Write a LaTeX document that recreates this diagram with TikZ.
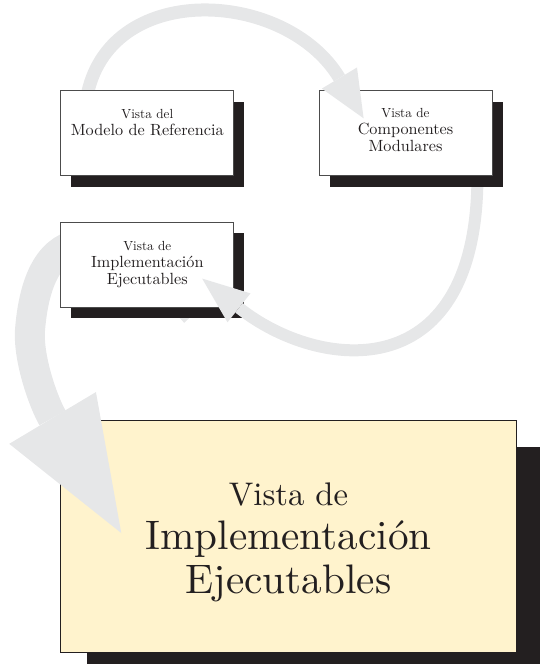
\documentclass[tikz,border=0pt]{standalone}
\usepackage{fontspec}
\setmainfont{lmroman10-regular.otf}
\usepackage{tikz}
\usetikzlibrary{arrows.meta,shadows}
\definecolor{flowgray}{HTML}{E6E7E8}
\definecolor{shadowblk}{HTML}{231F20}
\definecolor{paleyellow}{HTML}{FFF3CD}
\tikzstyle{viewbase}=[rectangle, inner sep=0pt, align=center, text=shadowblk]
\tikzstyle{view}=[viewbase, draw=black!70, line width=0.8pt, fill=white, minimum width=173pt, minimum height=85pt, font=\fontsize{16.2}{16.7}\selectfont, general shadow={fill=shadowblk, shadow xshift=10.5pt, shadow yshift=-11pt}]
\tikzstyle{bigview}=[viewbase, draw=shadowblk, line width=1.3pt, fill=paleyellow, minimum width=456pt, minimum height=231.5pt, font=\fontsize{41.2}{44}\selectfont, general shadow={fill=shadowblk, shadow xshift=26pt, shadow yshift=-26pt}]
\tikzstyle{flow}=[draw=flowgray, line cap=butt]
\newcommand{\viewhead}[1]{{\fontsize{13.2}{16.7}\selectfont #1}}
\pgfdeclarelayer{lay1}
\pgfdeclarelayer{lay2}
\pgfdeclarelayer{lay3}
\pgfdeclarelayer{lay4}
\pgfdeclarelayer{lay5}
\pgfdeclarelayer{lay6}
\pgfsetlayers{lay1,lay2,lay3,lay4,lay5,lay6,main}

\begin{document}
\begin{tikzpicture}[x=1pt, y=-1pt]
	\useasboundingbox (0,0) rectangle (540,664);
	% the four views
	\begin{pgfonlayer}{lay1}
		\node[bigview, text height=122pt] (ejec) at (288.5,536.5) {{\fontsize{32.7}{44}\selectfont Vista de}\\ Implementación\\ Ejecutables};
	\end{pgfonlayer}
	\begin{pgfonlayer}{lay3}
		\node[view] (impl) at (147.3,264.7) {\viewhead{Vista de}\\ Implementación\\ Ejecutables};
	\end{pgfonlayer}
	\begin{pgfonlayer}{lay5}
		\node[view, text depth=6.6pt] (comp) at (405.5,133.2) {\viewhead{Vista de}\\ Componentes\\ Modulares};
	\end{pgfonlayer}
	\node[view, text depth=21.6pt] (modelo) at (147.3,133.2) {\viewhead{Vista del}\\ Modelo de Referencia};

	% the flow between them
	\begin{pgfonlayer}{lay6}
		\draw[flow, line width=13pt, -{Triangle[length=47pt,width=41pt,line width=0pt]}]
			([shift={(26,9)}]modelo.north west) .. controls +(20,-120) and +(-78,-130) .. ([shift={(45,28)}]comp.north west);
	\end{pgfonlayer}
	\begin{pgfonlayer}{lay4}
		\draw[flow, line width=12pt, -{Triangle[length=47pt,width=37pt,line width=0pt]}]
			([shift={(-15,-6)}]comp.south east) .. controls +(3,220) and +(117,93) .. ([shift={(-32,-29)}]impl.south east);
	\end{pgfonlayer}
	\begin{pgfonlayer}{lay2}
		\draw[flow, line width=30pt, -{Triangle[length=134pt,width=101pt,line width=0pt]}]
			([shift={(-39,5)}]impl.south east) .. controls +(-75,-82) and +(10,-125) .. (30,330)
			.. controls +(-2,30) and +(-77,-129) .. ([shift={(61.4,-3.5)}]ejec.west);
	\end{pgfonlayer}
\end{tikzpicture}
\end{document}
